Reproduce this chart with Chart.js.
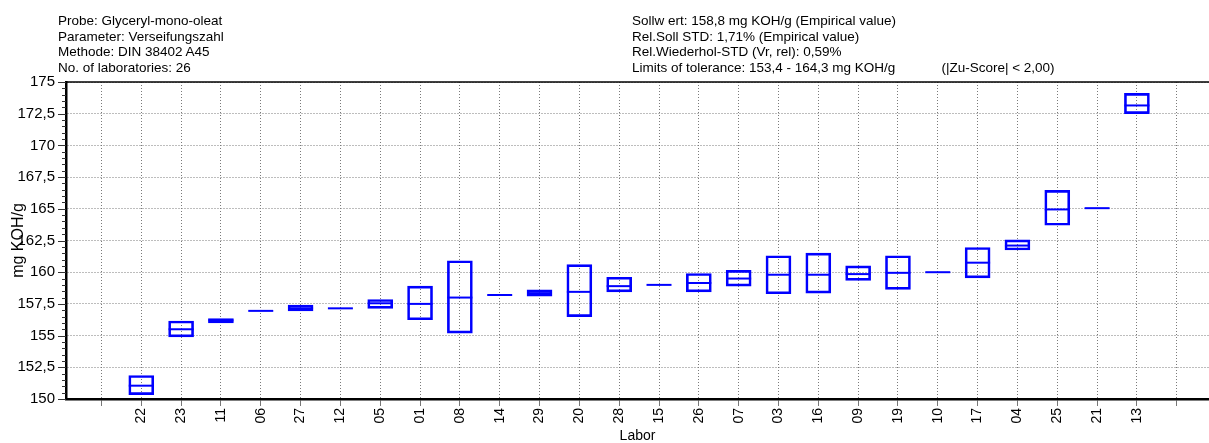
<!DOCTYPE html>
<html>
<head>
<meta charset="utf-8">
<script src="https://cdn.jsdelivr.net/npm/chart.js@4"></script>
<style>
  html, body { margin: 0; padding: 0; background: #fff; }
  #wrap { position: relative; width: 1209px; height: 443px; }
  .info { position: absolute; top: 13px; font: 13.5px/15.5px 'Liberation Sans', Arial, sans-serif; color: #000; white-space: pre; }
  .gap { margin-left: 46px; }
</style>
</head>
<body>
<div id="wrap">
  <canvas id="c" width="1209" height="443"></canvas>
  <div class="info" style="left:58px">Probe: Glyceryl-mono-oleat
Parameter: Verseifungszahl
Methode: DIN 38402 A45
No. of laboratories: 26</div>
  <div class="info" style="left:632px">Sollw ert: 158,8 mg KOH/g (Empirical value)
Rel.Soll STD: 1,71% (Empirical value)
Rel.Wiederhol-STD (Vr, rel): 0,59%
Limits of tolerance: 153,4 - 164,3 mg KOH/g<span class="gap">(|Zu-Score| &lt; 2,00)</span></div>
</div>
<script>
/* box chart: Verseifungszahl per Labor */
const labs    = ['22','23','11','06','27','12','05','01','08','14','29','20','28','15','26','07','03','16','09','19','10','17','04','25','21','13'];
const boxLow  = [150.35,154.9,156.0,156.95,156.95,157.15,157.15,156.25,155.2,158.2,158.1,156.5,158.45,159.0,158.45,158.9,158.3,158.35,159.35,158.65,160.0,159.55,161.75,163.7,165.05,172.5];
const boxHigh = [151.85,156.15,156.35,156.95,157.4,157.15,157.85,158.9,160.9,158.2,158.6,160.6,159.6,159.0,159.9,160.15,161.3,161.5,160.5,161.3,160.0,161.95,162.55,166.45,165.05,174.1];
const medians = [151.05,155.5,156.2,156.95,157.15,157.15,157.55,157.5,158.0,158.2,158.35,158.45,158.9,159.0,159.15,159.5,159.8,159.8,159.85,159.95,160.0,160.75,162.1,164.95,165.05,173.15];

const FONT = "'Liberation Sans', Arial, sans-serif";
const BLUE = '#0000FF';
const GRID = '#7a7a7a';
const isMajor = v => Math.abs(v / 2.5 - Math.round(v / 2.5)) < 1e-6;
const fmt = v => String(v).replace('.', ',');

// ── frame + y tick marks ──────────────────
const frame = {
  id: 'frame',
  afterDraw(chart) {
    const { ctx, chartArea: a, scales: { y } } = chart;
    ctx.save();
    ctx.strokeStyle = '#000';
    ctx.lineWidth = 1.3;
    ctx.beginPath(); ctx.moveTo(a.left, a.top); ctx.lineTo(chart.width, a.top); ctx.stroke();
    ctx.lineWidth = 1;
    ctx.strokeStyle = '#333';
    y.ticks.forEach(t => {
      const py = Math.round(y.getPixelForValue(t.value)) + 0.5;
      const len = isMajor(t.value) ? 8 : 4;
      ctx.beginPath(); ctx.moveTo(a.left - len, py); ctx.lineTo(a.left, py); ctx.stroke();
    });
    ctx.restore();
  }
};

new Chart(document.getElementById('c'), {
  type: 'bar',
  data: {
    datasets: [{
      label: 'Box',
      data: labs.map((l, i) => ({ x: i + 1, y: [boxLow[i], boxHigh[i]] })),
      backgroundColor: 'rgba(255,255,255,0)',
      borderColor: BLUE, borderWidth: 2, borderSkipped: false,
      barThickness: 25
    }, {
      type: 'scatter',
      label: 'Median',
      data: labs.map((l, i) => ({ x: i + 1, y: medians[i] })),
      pointStyle: 'line', pointRadius: 12.5, pointHoverRadius: 12.5,
      borderColor: BLUE, borderWidth: 2
    }]
  },
  options: {
    responsive: false,
    animation: false,
    layout: { autoPadding: false, padding: { top: 82, left: 0, right: 0, bottom: 0 } },
    plugins: { legend: { display: false }, tooltip: { enabled: false } },
    scales: {
      x: {
        type: 'linear', min: -0.89, max: 27.81, offset: false,
        afterBuildTicks: s => { s.ticks = Array.from({ length: labs.length + 2 }, (_, i) => ({ value: i })); },
        afterFit: s => { s.height = 44; s.paddingLeft = 0; s.paddingRight = 0; },
        ticks: {
          autoSkip: false, minRotation: 90, maxRotation: 90, padding: 2,
          color: '#000', font: { family: FONT, size: 14 },
          callback: v => labs[v - 1] || ''
        },
        grid: { offset: false, color: GRID, lineWidth: 1, tickLength: 7, tickColor: '#777', tickWidth: 1 },
        border: { color: '#000', width: 2.5, dash: [1, 2] },
        title: { display: true, text: 'Labor', color: '#000', font: { family: FONT, size: 14, lineHeight: 1 }, padding: 0 }
      },
      y: {
        min: 150, max: 175,
        afterFit: s => { s.width = 66; },
        ticks: {
          stepSize: 0.5, autoSkip: false, padding: 3,
          color: '#000', font: { family: FONT, size: 15 },
          callback: v => isMajor(v) ? fmt(v) : ''
        },
        grid: {
          color: c => isMajor(c.tick.value) ? GRID : 'rgba(0,0,0,0)',
          lineWidth: 1, tickLength: 8, tickWidth: 0
        },
        border: { color: '#000', width: 2.5, dash: [1, 2] },
        title: { display: true, text: 'mg KOH/g', color: '#000', font: { family: FONT, size: 16 }, padding: { top: 9, bottom: 0 } }
      }
    }
  },
  plugins: [frame]
});
</script>
</body>
</html>
